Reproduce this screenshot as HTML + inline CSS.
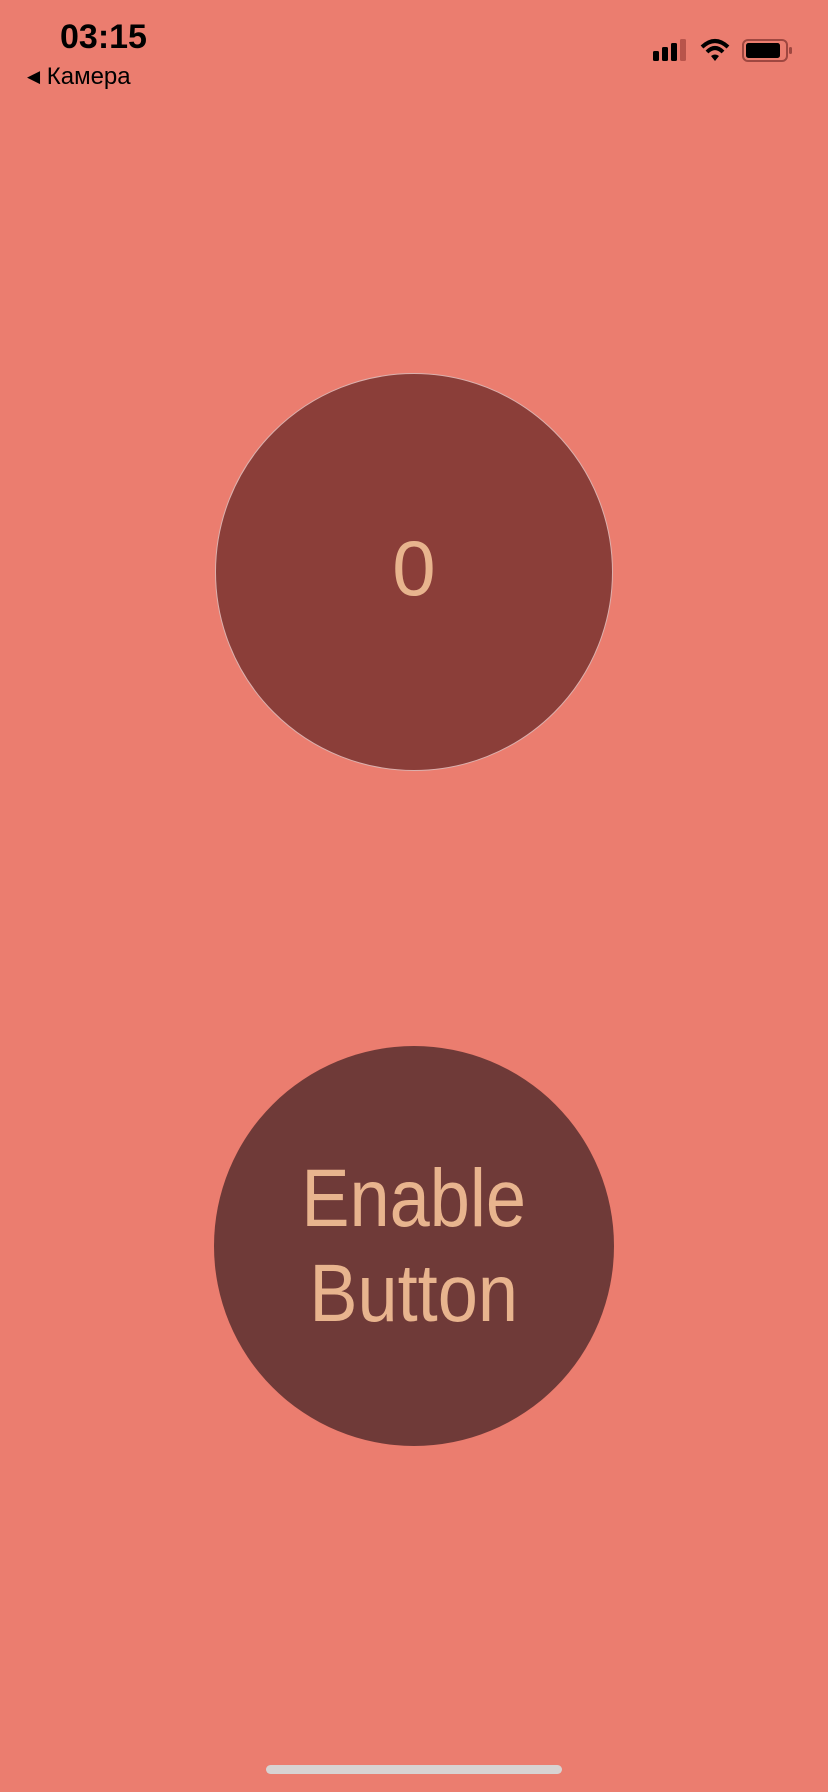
<!DOCTYPE html>
<html><head><meta charset="utf-8"><style>
html,body{margin:0;padding:0}
body{width:828px;height:1792px;background:#eb7d6f;position:relative;overflow:hidden;font-family:"Liberation Sans",sans-serif}
.abs{position:absolute}
</style></head><body>
<div class="abs" style="left:60px;top:18px;font-size:34px;font-weight:bold;color:#000;letter-spacing:0px">03:15</div>
<div class="abs" style="left:27px;top:63px;font-size:24px;color:#000;"><span style="font-size:17px;position:relative;top:-2px">◀</span> Камера</div>
<svg class="abs" style="left:650px;top:36px" width="150" height="30" viewBox="0 0 150 30">
<rect x="3" y="15" width="6" height="10" rx="1.5" fill="#000"/>
<rect x="12" y="11" width="6" height="14" rx="1.5" fill="#000"/>
<rect x="21" y="7" width="6" height="18" rx="1.5" fill="#000"/>
<rect x="30" y="3" width="6" height="22" rx="1.5" fill="#b8544b"/>
<path d="M52 11 Q65 -1 78 11" stroke="#000" stroke-width="4" fill="none"/>
<path d="M57 16 Q65 8 73 16" stroke="#000" stroke-width="4" fill="none"/>
<path d="M61 20 L65 25 L69 20 Q65 17 61 20Z" fill="#000"/>
<rect x="93" y="4" width="44" height="21" rx="5" fill="none" stroke="#9e4740" stroke-width="2"/>
<rect x="96" y="7" width="34" height="15" rx="2.5" fill="#000"/>
<rect x="139" y="11" width="3" height="7" rx="1.5" fill="#9e4740"/>
</svg>
<div class="abs" style="left:215px;top:373px;width:396px;height:396px;border-radius:50%;background:#8b3e39;border:1px solid #dcb0ad;display:flex;align-items:center;justify-content:center;color:#e8b48e;font-size:78px;"><span style="position:relative;top:-4px">0</span></div>
<div class="abs" style="left:214px;top:1046px;width:400px;height:400px;border-radius:50%;background:#6f3a38;display:flex;align-items:center;justify-content:center;text-align:center;color:#e8b48e;font-size:82px;line-height:95px;"><span style="display:inline-block;transform:scaleX(0.88)">Enable<br>Button</span></div>
<div class="abs" style="left:266px;top:1765px;width:296px;height:9px;border-radius:5px;background:#d8d3d2"></div>
</body></html>
